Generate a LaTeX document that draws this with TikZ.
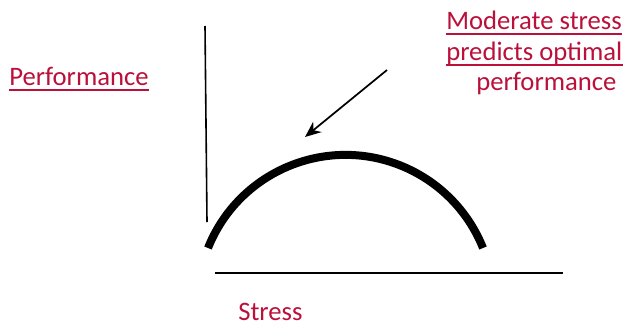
\documentclass[tikz,border=0pt]{standalone}
\usepackage{fontspec}
\setmainfont{Carlito}
\usetikzlibrary{arrows.meta}
\definecolor{crim}{RGB}{186,16,58}
\tikzset{
  lbl/.style={anchor=base west, inner sep=0pt, text=crim, font=\fontsize{20}{24}\selectfont},
  uline/.style={draw=crim, line width=1.5pt},
  axis/.style={draw=black, line width=1.2pt},
  curve/.style={draw=black, line width=6pt},
  pointer/.style={draw=black, line width=1.3pt, -{Stealth[length=12pt,width=10pt]}}
}
\begin{document}
\begin{tikzpicture}[x=0.75pt,y=-0.75pt]
\useasboundingbox (0,0) rectangle (630,325);
% axes
\coordinate (vtop) at (205,26);
\coordinate (vbot) at (207,222);
\draw[axis] (vtop) -- (vbot);
\coordinate (hl) at (215,273);
\coordinate (hr) at (563,273);
\draw[axis] (hl) -- (hr);
% curve
\coordinate (cl) at (208,248);
\draw[curve] (cl) arc[start angle=201.8, end angle=338.2, radius=148.1];
% arrow
\coordinate (as) at (387,70);
\coordinate (ae) at (305,137);
\draw[pointer] (as) -- (ae);
% labels
\node[lbl] (perf) at (9,85) {Performance};
\draw[uline] ([yshift=-3.8pt]perf.base west) -- ([yshift=-3.8pt]perf.base east);
\node[lbl] (m1) at (446,29) {Moderate stress\ };
\draw[uline] ([yshift=-3.8pt]m1.base west) -- ([yshift=-3.8pt]m1.base east);
\node[lbl] (m2) at (446,60) {predicts optimal\ };
\draw[uline] ([yshift=-3.8pt]m2.base west) -- ([yshift=-3.8pt]m2.base east);
\node[lbl] (m3) at (476,90) {performance};
\node[lbl] (st) at (238,320) {Stress};
\end{tikzpicture}
\end{document}
